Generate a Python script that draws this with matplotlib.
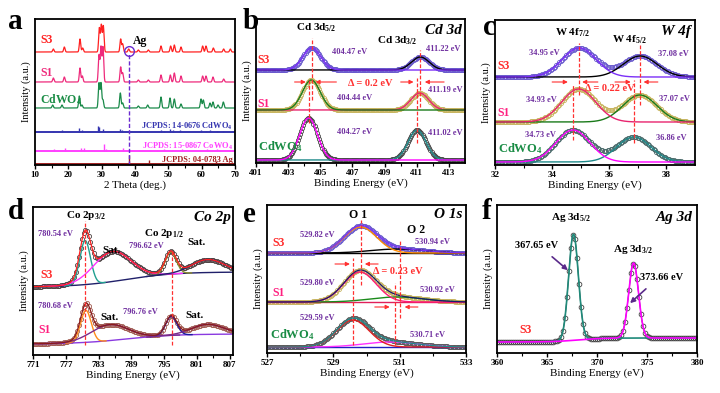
import numpy as np
import matplotlib
matplotlib.use("Agg")
import matplotlib.pyplot as plt

plt.rcParams['font.family'] = ['Liberation Serif', 'DejaVu Serif']
plt.rcParams['font.weight'] = 'bold'
plt.rcParams['mathtext.fontset'] = 'custom'
plt.rcParams['mathtext.rm'] = 'Liberation Serif:bold'
plt.rcParams['mathtext.it'] = 'Liberation Serif:bold:italic'
plt.rcParams['mathtext.bf'] = 'Liberation Serif:bold'
plt.rcParams['mathtext.default'] = 'rm'

RED = '#ff2a2a'
PINK = '#ff2080'
GREEN = '#1a8c45'
VIOLET = '#7030a0'
DASH = '#ff3030'

# ---------------- (a) XRD: (2theta, intensity) peak lists ----------------
xrd_s3 = [(15.5, 3), (18.8, 5), (23.5, 13), (24.3, 4), (29.3, 24), (29.9, 27),
          (30.5, 26), (35.7, 13), (36.3, 8), (38.1, 3), (41.0, 2), (44.0, 2),
          (47.8, 6), (50.7, 6), (51.8, 7), (53.8, 5), (60.3, 6), (61.3, 6),
          (63.5, 4), (66.6, 3), (68.6, 3)]
xrd_s1 = [(15.5, 4), (18.8, 5), (23.5, 14), (24.2, 6), (29.2, 27), (29.8, 35),
          (30.4, 35), (35.7, 15), (36.3, 9), (41.0, 2), (44.0, 2), (47.8, 7),
          (50.6, 7), (51.8, 9), (53.8, 6), (60.3, 6), (61.3, 6), (63.4, 5),
          (66.6, 3)]
xrd_cdwo4 = [(15.3, 3), (18.1, 3), (23.3, 12), (24.1, 3), (29.2, 25), (29.8, 25),
             (30.4, 8), (35.6, 15), (36.3, 5), (41.0, 2), (43.8, 3), (47.8, 11),
             (50.5, 10), (51.8, 9), (53.8, 4), (59.8, 9), (60.5, 8), (62.5, 5),
             (63.4, 6), (64.9, 3), (66.5, 6)]
ref_cdwo4 = [(15.3, 1), (18.1, 1.5), (23.3, 4), (24.0, 1.5), (28.9, 6), (29.2, 5),
             (30.5, 3), (35.5, 3), (36.1, 1.5), (41.5, 1), (43.6, 1), (47.7, 2),
             (48.6, 1), (50.4, 2.5), (51.5, 2), (53.6, 1.5), (59.9, 2), (61.3, 1),
             (62.6, 1.5), (64.7, 1), (66.3, 1)]
ref_cowo4 = [(15.6, 1.5), (18.9, 3), (23.9, 3), (24.6, 3), (30.6, 7), (31.3, 2),
             (36.3, 2.5), (38.4, 1), (41.3, 1), (44.5, 1), (46.5, 1), (48.8, 1.5),
             (51.0, 1), (54.0, 2), (61.6, 2), (64.6, 1.5), (65.6, 1), (68.6, 1)]
ref_ag = [(38.1, 9), (44.3, 4), (64.4, 3)]

# ---------------- (b) Cd 3d: S3, S1, CdWO4 ----------------
cd_offset = [93, 53, 3]
cd_c52 = [404.47, 404.44, 404.27]
cd_h52 = [22, 30, 42]
cd_c32 = [411.22, 411.19, 411.02]
cd_h32 = [13, 17, 30]
cd_fwhm = 1.3

# ---------------- (c) W 4f ----------------
w_offset = [88, 43, 3]
w_c72 = [34.95, 34.93, 34.73]
w_h72 = [29, 33, 32]
w_c52 = [37.08, 37.07, 36.86]
w_h52 = [21, 27, 25]
w_fwhm = 1.4

# ---------------- (d) Co 2p: S3, S1 ----------------
co_bg_left = [68, 11]
co_bg_right = [83, 21]
co_c32 = [780.54, 780.68]
co_h32 = [44, 32]
co_sat1_c = [785.5, 785.0]
co_sat1_h = [30, 16]
co_c12 = [796.2, 796.3]
co_h12 = [22, 19]
co_sat2_c = [803.0, 803.0]
co_sat2_h = [13, 10]

# ---------------- (e) O 1s ----------------
o_offset = [100, 51, 6]
o_c1 = [529.82, 529.80, 529.59]
o_h1 = [26, 30, 27]
o_c2 = [530.94, 530.92, 530.71]
o_h2 = [4, 5, 5]

# ---------------- (f) Ag 3d ----------------
ag_c = [367.65, 373.66]
ag_h = [106, 75]
ag_level = [11, 15]


def peak(x, c, h, w):
    return h * np.exp(-4 * np.log(2) * ((x - c) / w) ** 2)


def xrd(x, peaks):
    return sum(peak(x, c, h, 0.5) for c, h in peaks)


def style(ax, xlim, ticks, minor, ylim, xlabel):
    ax.set_xlim(*xlim)
    ax.set_ylim(*ylim)
    ax.set_xticks(ticks)
    ax.set_xticks(minor, minor=True)
    ax.set_yticks([])
    for s in ax.spines.values():
        s.set_linewidth(1.3)
    ax.tick_params(axis='x', which='major', direction='out', length=3, width=1,
                   labelsize=6.5, pad=1.5)
    ax.tick_params(axis='x', which='minor', direction='out', length=1.8, width=0.8)
    ax.set_xlabel(xlabel, fontsize=8, labelpad=1)
    ax.set_ylabel('Intensity (a.u.)', fontsize=7.5, labelpad=3)


def vdash(ax, x, y0, y1):
    ax.plot([x, x], [y0, y1], ls=(0, (3, 1.5)), color=DASH, lw=0.9, zorder=6)


def arrow(ax, x0, x1, y, color=DASH):
    ax.annotate('', xy=(x1, y), xytext=(x0, y),
                arrowprops=dict(arrowstyle='-|>', color=color, lw=0.8,
                                mutation_scale=6, shrinkA=0, shrinkB=0))


def vtext(ax, x, y, s, ha='left'):
    ax.text(x, y, s, color=VIOLET, fontsize=6, ha=ha, va='center')


fig = plt.figure(figsize=(7.2, 3.93), dpi=100)
W, H = 720.0, 393.0


def box(l, t, r, b):
    return fig.add_axes([l / W, 1 - b / H, (r - l) / W, (b - t) / H])


# ======================= (a) =======================
ax = box(35, 19, 235, 165)
x = np.arange(10, 70.001, 0.04)
ax.plot(x, 113 + xrd(x, xrd_s3), color='#ff2020', lw=0.9)
ax.plot(x, 83 + xrd(x, xrd_s1), color='#ee2a7b', lw=0.9)
ax.plot(x, 57 + xrd(x, xrd_cdwo4), color='#1a8a4a', lw=0.9)
for base, refs, col in [(33, ref_cdwo4, '#3535b0'), (14, ref_cowo4, '#ff40ff'),
                        (1, ref_ag, '#a02020')]:
    ax.plot([10, 70], [base, base], color=col, lw=1.4)
    ax.vlines([c for c, h in refs], base, [base + h for c, h in refs], color=col, lw=1.0)
ax.plot([38.1, 38.1], [0, 112], ls=(0, (3, 1.5)), color='#6a2ad0', lw=1.0)
ax.plot(38.1, 114, 'o', mfc='none', mec='#6a2ad0', ms=7, mew=1.0)
ax.text(39.5, 124, 'Ag', fontsize=8.5, ha='left', va='center')
ax.text(11.5, 125, 'S3', color='#ff2020', fontsize=8.5, va='center')
ax.text(11.5, 92, 'S1', color='#ee2a7b', fontsize=8.5, va='center')
ax.text(11.5, 65, 'CdWO$_4$', color=GREEN, fontsize=8.5, va='center')
ax.text(69.3, 39, 'JCPDS: 14-0676 CdWO$_4$', color='#3535b0', fontsize=6, ha='right', va='center')
ax.text(69.3, 19, 'JCPDS: 15-0867 CoWO$_4$', color='#ff40ff', fontsize=6, ha='right', va='center')
ax.text(69.3, 5, 'JCPDS: 04-0783 Ag', color='#a02020', fontsize=6, ha='right', va='center')
style(ax, (10, 70), range(10, 71, 10), range(15, 70, 10), (0, 146), '2 Theta (deg.)')

# ======================= (b) =======================
ax = box(256, 19, 465, 163)
x = np.arange(401, 414.001, 0.02)
xm = np.arange(401, 414.001, 0.07)
mcol = ['#6a5acd', '#c8b560', '#4a4a4a']
c52col = ['#7b2ff7', '#1a7a1a', '#ff00ff']
c32col = ['black', '#e8246e', '#1f8a8a']
for i in range(3):
    off = cd_offset[i]
    tot = lambda t: off + peak(t, cd_c52[i], cd_h52[i], cd_fwhm) + peak(t, cd_c32[i], cd_h32[i], cd_fwhm)
    ax.plot(xm, tot(xm), 'o', mfc='none', mec=mcol[i], ms=3, mew=0.6)
    ax.plot(x, off + peak(x, cd_c32[i], cd_h32[i], cd_fwhm), color=c32col[i], lw=1.0)
    ax.plot(x, off + peak(x, cd_c52[i], cd_h52[i], cd_fwhm), color=c52col[i], lw=1.0)
vdash(ax, 404.47, 63, 125)
vdash(ax, 404.27, 40, 83)
vdash(ax, 411.22, 56, 113)
vdash(ax, 411.02, 20, 85)
arrow(ax, 403.4, 404.1, 81)
arrow(ax, 406.0, 404.7, 81)
arrow(ax, 410.0, 410.8, 81)
arrow(ax, 412.7, 411.5, 81)
ax.text(406.7, 80, 'Δ = 0.2 eV', color=DASH, fontsize=7.5, va='center')
vtext(ax, 405.75, 111, '404.47 eV')
vtext(ax, 411.55, 114, '411.22 eV')
vtext(ax, 406.05, 65, '404.44 eV')
vtext(ax, 411.7, 73, '411.19 eV')
vtext(ax, 406.05, 31, '404.27 eV')
vtext(ax, 411.7, 30, '411.02 eV')
ax.text(404.75, 135, 'Cd 3d$_{5/2}$', fontsize=8, ha='center', va='center')
ax.text(409.8, 122, 'Cd 3d$_{3/2}$', fontsize=8, ha='center', va='center')
ax.text(413.8, 133, 'Cd 3d', fontsize=11, style='italic', ha='right', va='center')
ax.text(401.1, 103, 'S3', color=RED, fontsize=8.5, va='center')
ax.text(401.1, 59, 'S1', color=PINK, fontsize=8.5, va='center')
ax.text(401.1, 16, 'CdWO$_4$', color=GREEN, fontsize=9, va='center')
style(ax, (401, 414), range(401, 414, 2), range(402, 414, 2), (0, 144), 'Binding Energy (eV)')

# ======================= (c) =======================
ax = box(495, 20, 695, 165)
x = np.arange(32, 39.001, 0.01)
xm = np.arange(32, 39.001, 0.05)
mcol = ['#6a5acd', '#c8b560', '#4a6a6a']
c72col = ['#7b2ff7', '#e8246e', '#ff00ff']
c52col = ['black', '#1a7a1a', '#1f8a8a']
for i in range(3):
    off = w_offset[i]
    tot = lambda t: off + peak(t, w_c72[i], w_h72[i], w_fwhm) + peak(t, w_c52[i], w_h52[i], w_fwhm)
    ax.plot(xm, tot(xm), 'o', mfc='none', mec=mcol[i], ms=3, mew=0.6)
    ax.plot(x, off + peak(x, w_c52[i], w_h52[i], w_fwhm), color=c52col[i], lw=1.0)
    ax.plot(x, off + peak(x, w_c72[i], w_h72[i], w_fwhm), color=c72col[i], lw=1.0)
vdash(ax, 34.95, 70, 122)
vdash(ax, 34.73, 25, 80)
vdash(ax, 37.08, 60, 120)
vdash(ax, 36.86, 22, 85)
arrow(ax, 34.0, 34.55, 83)
arrow(ax, 35.6, 35.05, 83)
arrow(ax, 36.2, 36.75, 83)
arrow(ax, 37.7, 37.2, 83)
ax.text(35.15, 76, 'Δ = 0.22 eV', color=DASH, fontsize=7.5, va='center')
vtext(ax, 33.2, 112, '34.95 eV')
vtext(ax, 37.7, 111, '37.08 eV')
vtext(ax, 33.1, 65, '34.93 eV')
vtext(ax, 37.75, 66, '37.07 eV')
vtext(ax, 33.05, 30, '34.73 eV')
vtext(ax, 37.65, 27, '36.86 eV')
ax.text(34.7, 132, 'W 4f$_{7/2}$', fontsize=8, ha='center', va='center')
ax.text(36.7, 125, 'W 4f$_{5/2}$', fontsize=8, ha='center', va='center')
ax.text(38.85, 133, 'W 4f', fontsize=11, style='italic', ha='right', va='center')
ax.text(32.1, 99, 'S3', color=RED, fontsize=8.5, va='center')
ax.text(32.1, 52, 'S1', color=PINK, fontsize=8.5, va='center')
ax.text(32.1, 16, 'CdWO$_4$', color=GREEN, fontsize=9, va='center')
style(ax, (32, 39), range(32, 39, 2), range(33, 39, 2), (0, 145), 'Binding Energy (eV)')

# ======================= (d) =======================
ax = box(33, 207, 233, 355)
x = np.arange(771, 807.6, 0.05)
xm = np.arange(771, 807.6, 0.3)
mcol = ['#4a4040', '#a05a50']
fitcol = ['#ff2020', '#8b1a1a']
colors = [['#20a090', '#ff30ff', '#8b8b2a', '#20206a', '#20206a'],
          ['#ff8c1a', '#7a2a8a', '#1a1aa0', '#7a2a8a', '#8a3ae0']]
for i in range(2):
    def bg(t, i=i):
        return co_bg_left[i] + (co_bg_right[i] - co_bg_left[i]) / (1 + np.exp(-(t - 788) / 4.5))
    comps = [(co_c32[i], co_h32[i], 2.3), (co_sat1_c[i], co_sat1_h[i], 8.0),
             (co_c12[i], co_h12[i], 2.4), (co_sat2_c[i], co_sat2_h[i], 7.0)]
    tot = lambda t: bg(t) + sum(peak(t, c, h, w) for c, h, w in comps)
    ax.plot(xm, tot(xm), 'o', mfc='none', mec=mcol[i], ms=3, mew=0.6)
    ax.plot(x, bg(x), color=colors[i][4], lw=1.0)
    for (c, h, w), col in zip(comps, colors[i][:4]):
        seg = np.abs(x - c) < 1.6 * w
        ax.plot(x[seg], bg(x[seg]) + peak(x[seg], c, h, w), color=col, lw=1.0)
    ax.plot(x, tot(x), color=fitcol[i], lw=0.9)
vdash(ax, 780.6, 10, 134)
vdash(ax, 796.5, 10, 105)
ax.text(780.7, 140, 'Co 2p$_{3/2}$', fontsize=8, ha='center', va='center')
vtext(ax, 772.0, 121, '780.54 eV')
ax.text(785.4, 105, 'Sat.', fontsize=8, ha='center', va='center')
ax.text(795.0, 122, 'Co 2p$_{1/2}$', fontsize=8, ha='center', va='center')
vtext(ax, 791.7, 109, '796.62 eV', ha='center')
ax.text(801.0, 113, 'Sat.', fontsize=8, ha='center', va='center')
vtext(ax, 772.0, 49, '780.68 eV')
ax.text(785.0, 38, 'Sat.', fontsize=8, ha='center', va='center')
vtext(ax, 790.6, 43, '796.76 eV', ha='center')
ax.text(800.6, 40, 'Sat.', fontsize=8, ha='center', va='center')
ax.text(807.2, 138, 'Co 2p', fontsize=11, style='italic', ha='right', va='center')
ax.text(772.4, 80, 'S3', color=RED, fontsize=8.5, va='center')
ax.text(772.0, 25, 'S1', color=PINK, fontsize=8.5, va='center')
style(ax, (771, 807.6), range(771, 808, 6), range(774, 808, 6), (0, 148), 'Binding Energy (eV)')

# ======================= (e) =======================
ax = box(267, 205, 466, 353)
x = np.arange(527, 533.001, 0.01)
xm = np.arange(527, 533.001, 0.04)
mcol = ['#6a5acd', '#c8b560', '#5a5a5a']
o1col = ['#ff8c00', '#ff1a75', '#e02020']
o2col = ['black', '#1a8a1a', '#ff30ff']
totcol = ['#7b2ff7', '#1a1a6a', '#1f8a8a']
bgcol = ['black', '#e0205a', '#2020c0']
for i in range(3):
    off = o_offset[i]
    tot = lambda t: off + peak(t, o_c1[i], o_h1[i], 1.15) + peak(t, o_c2[i], o_h2[i], 1.9)
    ax.plot(xm, tot(xm), 'o', mfc='none', mec=mcol[i], ms=3, mew=0.6)
    ax.plot([527, 533], [off, off], color=bgcol[i], lw=1.0)
    ax.plot(x, off + peak(x, o_c2[i], o_h2[i], 1.9), color=o2col[i], lw=1.0)
    ax.plot(x, off + peak(x, o_c1[i], o_h1[i], 1.15), color=o1col[i], lw=1.0)
    ax.plot(x, tot(x), color=totcol[i], lw=0.9)
vdash(ax, 529.82, 68, 133)
vdash(ax, 529.59, 8, 95)
vdash(ax, 531.0, 35, 113)
vdash(ax, 530.85, 8, 70)
arrow(ax, 529.05, 529.5, 89)
arrow(ax, 530.35, 529.95, 89)
arrow(ax, 530.25, 530.7, 46)
arrow(ax, 531.55, 531.15, 46)
ax.text(530.2, 82, 'Δ = 0.23 eV', color=DASH, fontsize=7.5, va='center')
vtext(ax, 528.0, 118, '529.82 eV')
vtext(ax, 531.45, 111, '530.94 eV')
vtext(ax, 528.0, 70, '529.80 eV')
vtext(ax, 531.6, 63, '530.92 eV')
vtext(ax, 528.0, 35, '529.59 eV')
vtext(ax, 531.3, 18, '530.71 eV')
ax.text(529.75, 138, 'O 1', fontsize=8.5, ha='center', va='center')
ax.text(531.5, 123, 'O 2', fontsize=8.5, ha='center', va='center')
ax.text(532.9, 138, 'O 1s', fontsize=11, style='italic', ha='right', va='center')
ax.text(527.15, 110, 'S3', color=RED, fontsize=8.5, va='center')
ax.text(527.15, 60, 'S1', color=PINK, fontsize=8.5, va='center')
ax.text(527.1, 18, 'CdWO$_4$', color=GREEN, fontsize=9, va='center')
style(ax, (527, 533), range(527, 534, 2), range(528, 534, 2), (0, 148), 'Binding Energy (eV)')

# ======================= (f) =======================
ax = box(497, 205, 697, 353)
x = np.arange(360, 380.001, 0.02)
xm = np.arange(360, 380.001, 0.2)


def ag_background(t):
    return ag_level[0] + (ag_level[1] - ag_level[0]) / (1 + np.exp(-(t - 368) / 1.2))


def ag_total(t):
    return ag_background(t) + peak(t, ag_c[0], ag_h[0], 1.15) + peak(t, ag_c[1], ag_h[1], 1.15)


ax.plot(xm, ag_total(xm), 'o', mfc='none', mec='#404040', ms=3.4, mew=0.6)
ax.plot(x, ag_total(x), color='#303030', lw=0.7)
ax.plot(x, ag_background(x) + peak(x, ag_c[0], ag_h[0], 1.15), color='#1f8a7a', lw=1.2)
ax.plot(x, ag_background(x) + peak(x, ag_c[1], ag_h[1], 1.15), color='#ff00ff', lw=1.2)
ax.annotate('', xy=(367.3, 81), xytext=(365.3, 98),
            arrowprops=dict(arrowstyle='-|>', color='#5a2a8a', lw=1.2, mutation_scale=7))
ax.annotate('', xy=(373.1, 48), xytext=(375.1, 66),
            arrowprops=dict(arrowstyle='-|>', color='#5a2a8a', lw=1.2, mutation_scale=7))
ax.text(367.4, 135, 'Ag 3d$_{5/2}$', fontsize=8, ha='center', va='center')
ax.text(364.0, 108, '367.65 eV', fontsize=7.5, ha='center', va='center')
ax.text(373.6, 103, 'Ag 3d$_{3/2}$', fontsize=8, ha='center', va='center')
ax.text(376.5, 76, '373.66 eV', fontsize=7.5, ha='center', va='center')
ax.text(379.6, 136, 'Ag 3d', fontsize=11, style='italic', ha='right', va='center')
ax.text(362.2, 23, 'S3', color=RED, fontsize=8.5, va='center')
style(ax, (360, 380), range(360, 381, 5), np.arange(362.5, 380, 5), (0, 148), 'Binding Energy (eV)')

# panel letters
for s, px, py in [('a', 8, 8), ('b', 243, 8), ('c', 483, 14),
                  ('d', 8, 198), ('e', 243, 201), ('f', 482, 198)]:
    fig.text(px / W, 1 - py / H, s, fontsize=21, ha='left', va='top')

fig.savefig('out.png', dpi=100)
